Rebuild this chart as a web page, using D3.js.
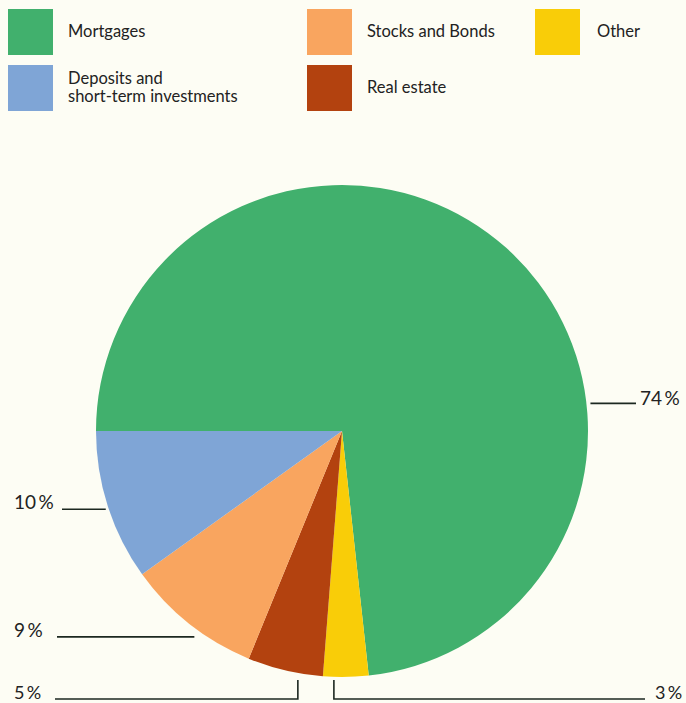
<!DOCTYPE html>
<html>
<head>
<meta charset="utf-8">
<script src="https://cdn.jsdelivr.net/npm/d3@7"></script>
<style>
  html, body { margin: 0; padding: 0; background: #fdfdf4; }
  svg { display: block; }
  text { font-family: Lato, "Open Sans", sans-serif; fill: #222; }
</style>
</head>
<body>
<svg id="chart" width="686" height="703"></svg>
<script>
// Asset categories, clockwise from the left horizontal edge
const categories = ["Mortgages", "Other", "Real estate", "Stocks and Bonds", "Deposits and short-term investments"];
const shares = [74, 3, 5, 9, 10];
const colors = ["#41b06d", "#f9cd08", "#b3420f", "#f9a55f", "#7fa5d6"];

// Legend entries in reading order
const legendOrder = ["Mortgages", "Stocks and Bonds", "Other", "Deposits and short-term investments", "Real estate"];
const legendLines = {
  "Mortgages": ["Mortgages"],
  "Stocks and Bonds": ["Stocks and Bonds"],
  "Other": ["Other"],
  "Deposits and short-term investments": ["Deposits and", "short-term investments"],
  "Real estate": ["Real estate"]
};

const svg = d3.select("#chart");
const cx = 342, cy = 431, R = 246;

const color = d3.scaleOrdinal().domain(categories).range(colors);

// ---- Legend ----
const legendPos = {
  "Mortgages": [8, 9],
  "Stocks and Bonds": [307, 9],
  "Other": [535, 9],
  "Deposits and short-term investments": [8, 65],
  "Real estate": [307, 65]
};
const legendTextX = { "Other": 62 };
const legend = svg.append("g");
legendOrder.forEach(name => {
  const [x, y] = legendPos[name];
  const g = legend.append("g").attr("transform", `translate(${x},${y})`);
  g.append("rect").attr("width", 45).attr("height", 46).attr("fill", color(name));
  const lines = legendLines[name];
  const base = lines.length === 1 ? 28 : 19;
  lines.forEach((ln, i) => {
    g.append("text")
      .attr("x", legendTextX[name] || 60).attr("y", base + i * 18)
      .attr("font-size", 16.5)
      .text(ln);
  });
});

// ---- Pie ----
const data = categories.map((c, i) => ({ name: c, value: shares[i] }));
const pie = d3.pie().sort(null).value(d => d.value)
  .startAngle(-Math.PI / 2).endAngle(3 * Math.PI / 2);
const arcs = pie(data);
const arc = d3.arc().innerRadius(0).outerRadius(R);

const pieG = svg.append("g").attr("transform", `translate(${cx},${cy})`);
pieG.selectAll("path").data(arcs).enter().append("path")
  .attr("d", arc)
  .attr("fill", d => color(d.data.name));

// ---- Value callouts ----
// Where along each slice the leader touches, and how the leader runs
const calloutAt = { "Mortgages": 0.658, "Other": 0.76, "Real estate": 0.33, "Stocks and Bonds": 0.34, "Deposits and short-term investments": 0.48 };
const calloutStyle = { "Mortgages": "right", "Other": "bottomRight", "Real estate": "bottomLeft", "Stocks and Bonds": "left", "Deposits and short-term investments": "left" };
const leftTextEnd = { "Stocks and Bonds": 57, "Deposits and short-term investments": 62 };

const lineColor = "#1c2820";
const calls = svg.append("g");
const fmt = v => v + "\u2009%";

arcs.forEach(a => {
  const name = a.data.name;
  const ang = a.startAngle + calloutAt[name] * (a.endAngle - a.startAngle);
  const px = cx + R * Math.sin(ang), py = cy - R * Math.cos(ang);
  const style = calloutStyle[name];
  const label = fmt(a.data.value);
  if (style === "right") {
    calls.append("line").attr("x1", px + 4).attr("x2", 636).attr("y1", py).attr("y2", py)
      .attr("stroke", lineColor).attr("stroke-width", 1.6);
    calls.append("text").attr("x", 640).attr("y", py + 2).attr("font-size", 19).text(label);
  } else if (style === "left") {
    const gap = name === "Stocks and Bonds" ? 13 : 3;
    calls.append("line").attr("x1", leftTextEnd[name]).attr("x2", px - gap).attr("y1", py).attr("y2", py)
      .attr("stroke", lineColor).attr("stroke-width", 1.6);
    calls.append("text").attr("x", 14).attr("y", py).attr("font-size", 19).text(label);
  } else {
    const yTop = cy + R + 3, yBot = 699;
    const xEnd = style === "bottomLeft" ? 55 : 645;
    calls.append("path")
      .attr("d", `M${px},${yTop} V${yBot} H${xEnd}`)
      .attr("fill", "none").attr("stroke", lineColor).attr("stroke-width", 1.6);
    calls.append("text")
      .attr("x", style === "bottomLeft" ? 14 : 655)
      .attr("y", 699).attr("font-size", 18).text(label);
  }
});
</script>
</body>
</html>
